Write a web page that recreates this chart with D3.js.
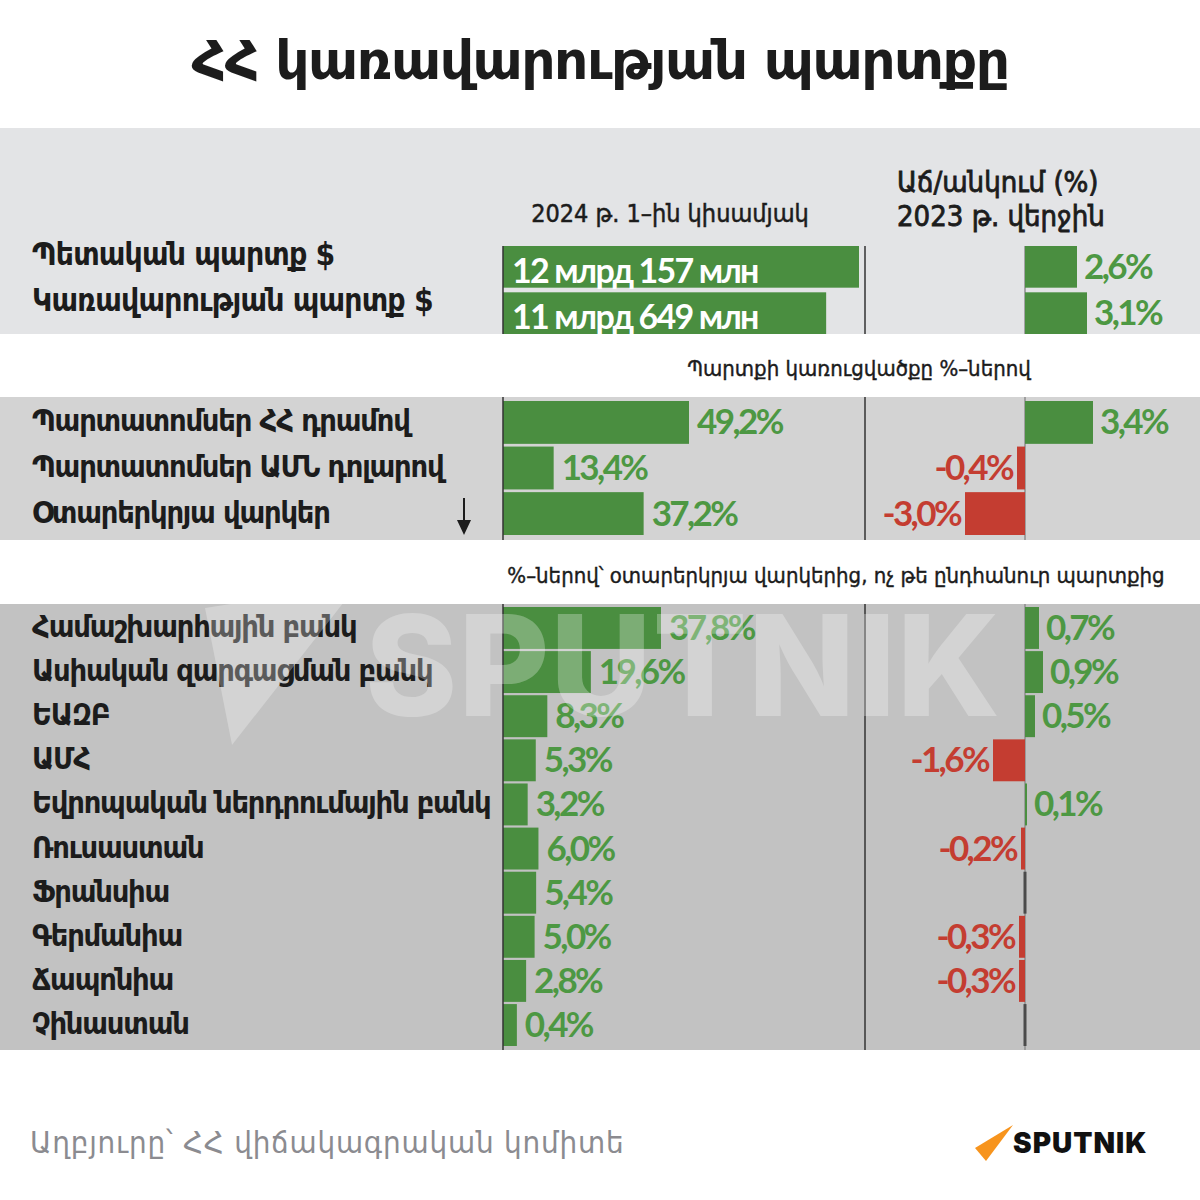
<!DOCTYPE html>
<html><head><meta charset="utf-8">
<script src="https://cdn.jsdelivr.net/npm/d3@7"></script>
<style>
html,body{margin:0;padding:0;background:#fff;}
svg{display:block;}
</style></head>
<body>
<script>
// ---------- DATA ----------
const titleText = "ՀՀ կառավարության պարտքը";
const headerLeft = "2024 թ. 1–ին կիսամյակ";
const headerRight = ["Աճ/անկում (%)", "2023 թ. վերջին"];
const subtitle2 = "Պարտքի կառուցվածքը %–ներով";
const subtitle3 = "%–ներով՝ օտարերկրյա վարկերից, ոչ թե ընդհանուր պարտքից";
const sourceText = "Աղբյուրը՝ ՀՀ վիճակագրական կոմիտե";

const summaryLabels = ["Պետական պարտք $", "Կառավարության պարտք $"];
const summaryValues = [12157, 11649]; // million USD
const summaryChange = [2.6, 3.1];

const structLabels = ["Պարտատոմսեր ՀՀ դրամով", "Պարտատոմսեր ԱՄՆ դոլարով", "Օտարերկրյա վարկեր"];
const structShare = [49.2, 13.4, 37.2];
const structChange = [3.4, -0.4, -3.0];

const lenderLabels = ["Համաշխարհային բանկ", "Ասիական զարգացման բանկ", "ԵԱԶԲ", "ԱՄՀ",
  "Եվրոպական ներդրումային բանկ", "Ռուսաստան", "Ֆրանսիա", "Գերմանիա", "Ճապոնիա", "Չինաստան"];
const lenderShare = [37.8, 19.6, 8.3, 5.3, 3.2, 6.0, 5.4, 5.0, 2.8, 0.4];
const lenderChange = [0.7, 0.9, 0.5, -1.6, 0.1, -0.2, 0, -0.3, -0.3, 0];

// ---------- STYLE ----------
const W = 1200, H = 1200;
const GREEN = "#4a8e40", GREEN_T = "#4d9843", RED = "#c43d31", DARK = "#1c1c1c";
const ARM = "'DejaVu Sans Condensed', 'DejaVu Sans', sans-serif";
const NUM = "Lato, Roboto, 'DejaVu Sans Condensed', sans-serif";
const fmt = v => (v < 0 ? "-" : "") + Math.abs(v).toFixed(1).replace(".", ",") + "%";

const svg = d3.select("body").append("svg").attr("width", W).attr("height", H);

// backgrounds
const sections = [
  {y0: 128, y1: 334, fill: "#e3e4e6"},
  {y0: 397, y1: 540, fill: "#d3d3d3"},
  {y0: 604, y1: 1050, fill: "#c2c2c2"}
];
svg.selectAll("rect.bg").data(sections).join("rect").attr("class", "bg")
  .attr("x", 0).attr("width", W).attr("y", d => d.y0).attr("height", d => d.y1 - d.y0)
  .attr("fill", d => d.fill);

// title
svg.append("text").attr("x", 600).attr("y", 79).attr("text-anchor", "middle")
  .attr("font-family", "'DejaVu Sans', sans-serif").attr("font-weight", "bold")
  .attr("font-size", 53.5).attr("letter-spacing", -1.5).attr("fill", DARK).text(titleText);

// headers
svg.append("text").attr("x", 670).attr("y", 222).attr("text-anchor", "middle")
  .attr("font-family", ARM).attr("font-size", 25).attr("fill", DARK)
  .attr("stroke", DARK).attr("stroke-width", 0.5).text(headerLeft);
svg.selectAll("text.hr").data(headerRight).join("text").attr("class", "hr")
  .attr("x", 897).attr("y", (d, i) => 192 + i * 34)
  .attr("font-family", ARM).attr("font-size", 29).attr("fill", DARK)
  .attr("stroke", DARK).attr("stroke-width", 0.8).text(d => d);

svg.append("text").attr("x", 859).attr("y", 376).attr("text-anchor", "middle")
  .attr("font-family", ARM).attr("font-size", 22).attr("fill", DARK)
  .attr("stroke", DARK).attr("stroke-width", 0.4).text(subtitle2);
svg.append("text").attr("x", 836).attr("y", 583).attr("text-anchor", "middle")
  .attr("font-family", ARM).attr("font-size", 22).attr("fill", DARK)
  .attr("stroke", DARK).attr("stroke-width", 0.4).text(subtitle3);

// scales
const xChange = d3.scaleLinear().domain([-3, 3.4]).range([965, 1093]);
const xSum = d3.scaleLinear().domain([6650, 12157]).range([503, 859]);
const xStruct = d3.scaleLinear().domain([0, 49.2]).range([503, 689]);
const xLend = d3.scaleLinear().domain([-3.2, 37.8]).range([503, 661]);

const ySum = d3.scaleBand().domain(summaryLabels).range([246, 334]).paddingInner(0.1);
const yStruct = d3.scaleBand().domain(structLabels).range([401, 535]).paddingInner(0.06);
const yLend = d3.scaleBand().domain(lenderLabels).range([607, 1046]).paddingInner(0.05);

// vertical guides
const guideSpans = [[246, 334], [397, 540], [604, 1050]];
guideSpans.forEach(([a, b]) => {
  svg.append("line").attr("x1", xChange(0)).attr("x2", xChange(0)).attr("y1", a).attr("y2", b)
    .attr("stroke", "#8e8e8e").attr("stroke-width", 1.5);
  svg.append("line").attr("x1", 865).attr("x2", 865).attr("y1", a).attr("y2", b)
    .attr("stroke", "#333").attr("stroke-width", 1.5);
});

function leftLabels(labels, y, dy, size, ls) {
  svg.append("g").selectAll("text").data(labels).join("text")
    .attr("x", 32).attr("y", d => y(d) + y.bandwidth() / 2 + dy)
    .attr("font-family", ARM).attr("font-weight", "bold").attr("font-size", size)
    .attr("letter-spacing", ls).attr("fill", DARK).text(d => d);
}

function changeBars(labels, values, y) {
  const g = svg.append("g");
  const data = labels.map((l, i) => ({l, v: values[i]}));
  g.selectAll("rect").data(data).join("rect")
    .attr("x", d => d.v === 0 ? xChange(0) - 1.5 : Math.min(xChange(0), xChange(d.v)))
    .attr("width", d => d.v === 0 ? 3 : Math.abs(xChange(d.v) - xChange(0)))
    .attr("y", d => y(d.l)).attr("height", y.bandwidth())
    .attr("fill", d => d.v > 0 ? GREEN : d.v < 0 ? RED : "#4a4a4a");
  g.selectAll("text").data(data.filter(d => d.v !== 0)).join("text")
    .attr("x", d => d.v > 0 ? xChange(d.v) + 7 : xChange(d.v) - 5)
    .attr("y", d => y(d.l) + y.bandwidth() / 2 + 12)
    .attr("text-anchor", d => d.v > 0 ? "start" : "end")
    .attr("font-family", NUM).attr("font-weight", "bold").attr("font-size", 35).attr("letter-spacing", -2.6)
    .attr("fill", d => d.v > 0 ? GREEN_T : RED).text(d => fmt(d.v));
}

function shareBars(labels, values, y, x) {
  const g = svg.append("g");
  const data = labels.map((l, i) => ({l, v: values[i]}));
  g.selectAll("rect").data(data).join("rect")
    .attr("x", x.range()[0]).attr("width", d => x(d.v) - x.range()[0])
    .attr("y", d => y(d.l)).attr("height", y.bandwidth()).attr("fill", GREEN);
  g.selectAll("text").data(data).join("text")
    .attr("x", d => x(d.v) + 8).attr("y", d => y(d.l) + y.bandwidth() / 2 + 12)
    .attr("font-family", NUM).attr("font-weight", "bold").attr("font-size", 35).attr("letter-spacing", -2.6)
    .attr("fill", GREEN_T).text(d => fmt(d.v));
}

// Section 1
leftLabels(summaryLabels, ySum, -2, 31.5, -0.8);
{
  const g = svg.append("g");
  const data = summaryLabels.map((l, i) => ({l, v: summaryValues[i]}));
  g.selectAll("rect").data(data).join("rect")
    .attr("x", 503).attr("width", d => xSum(d.v) - 503)
    .attr("y", d => ySum(d.l)).attr("height", ySum.bandwidth()).attr("fill", GREEN);
  g.selectAll("text").data(data).join("text")
    .attr("x", 512).attr("y", d => ySum(d.l) + ySum.bandwidth() - 5)
    .attr("font-family", NUM).attr("font-weight", "bold").attr("font-size", 34).attr("letter-spacing", -1.8)
    .attr("fill", "#fff")
    .text(d => Math.floor(d.v / 1000) + " млрд " + (d.v % 1000) + " млн");
}
changeBars(summaryLabels, summaryChange, ySum);

// Section 2
leftLabels(structLabels, yStruct, 9, 30.5, -1.2);
shareBars(structLabels, structShare, yStruct, xStruct);
changeBars(structLabels, structChange, yStruct);

// arrow
svg.append("line").attr("x1", 464).attr("x2", 464).attr("y1", 498).attr("y2", 522)
  .attr("stroke", DARK).attr("stroke-width", 2);
svg.append("path").attr("d", "M457,520 L471,520 L464,535 Z").attr("fill", DARK);

// Section 3
leftLabels(lenderLabels, yLend, 9, 30.5, -1.2);
shareBars(lenderLabels, lenderShare, yLend, xLend);
changeBars(lenderLabels, lenderChange, yLend);

// left axis
guideSpans.forEach(([a, b]) => {
  svg.append("line").attr("x1", 503).attr("x2", 503).attr("y1", a).attr("y2", b)
    .attr("stroke", "#333").attr("stroke-width", 1.5);
});

// watermark
const wm = svg.append("g").attr("opacity", 0.28);
wm.append("path").attr("d", "M205,608 L358,584 L232,745 Z").attr("fill", "#fff");
wm.append("text").attr("x", 365).attr("y", 716).attr("textLength", 635)
  .attr("font-family", "Inter, 'DejaVu Sans', sans-serif").attr("font-weight", 800)
  .attr("font-size", 140).attr("fill", "#fff").text("SPUTNIK");

// footer
svg.append("text").attr("x", 30).attr("y", 1153)
  .attr("font-family", ARM).attr("font-size", 31).attr("letter-spacing", 0.8).attr("fill", "#8b8b90").text(sourceText);
svg.append("path").attr("d", "M1013,1125 L975,1148 L986,1161 Z").attr("fill", "#f7941d");
svg.append("text").attr("x", 1013).attr("y", 1153)
  .attr("font-family", "Inter, 'DejaVu Sans', sans-serif").attr("font-weight", 900)
  .attr("font-size", 28).attr("letter-spacing", 1).attr("fill", "#111").text("SPUTNIK");
</script>
</body></html>
